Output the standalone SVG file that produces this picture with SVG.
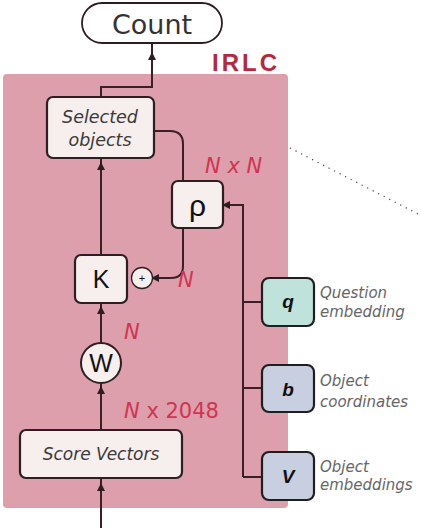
<svg xmlns="http://www.w3.org/2000/svg" width="421" height="530" viewBox="0 0 421 530">
<style>
.box{fill:#f7eeee;stroke:#2e1e22;stroke-width:2.2}
.ln{fill:none;stroke:#3a1f27;stroke-width:2}
.lab{font-family:"DejaVu Sans",Verdana,sans-serif;font-style:italic;fill:#3a3a3a}
.red{font-family:"DejaVu Sans",Verdana,sans-serif;font-style:italic;fill:#cf3552;font-size:21px}
.side{font-family:"DejaVu Sans",Verdana,sans-serif;font-style:italic;fill:#666;font-size:15px}
.sym{font-family:"Liberation Sans",Arial,sans-serif;fill:#111}
</style>
<defs>
<marker id="ah" viewBox="0 0 10 10" refX="5" refY="5" markerWidth="4" markerHeight="4" orient="auto" markerUnits="strokeWidth">
<path d="M0,0 L10,5 L0,10 z" fill="#2e1e22"/>
</marker>
</defs>
<rect x="3" y="74" width="285" height="434" rx="4" fill="#dc9fab"/>
<text x="212" y="71" font-family="Liberation Sans,Arial,sans-serif" font-weight="bold" font-size="24" letter-spacing="3" fill="#b5283f">IRLC</text>
<path d="M290,148 L420,215" stroke="#444" stroke-width="1.2" stroke-dasharray="1.2,5" fill="none"/>
<g id="connectors">
<path class="ln" d="M101,97 V87 H152 V44"/>
<path class="ln" d="M152,62 V56 V44" marker-mid="url(#ah)"/>
<path class="ln" d="M154,131 H170 Q183,131 183,144 V181"/>
<path class="ln" d="M183,228 V266 Q183,278 171,278 H155" marker-end="url(#ah)"/>
<path class="ln" d="M101,255 V166 V159" marker-mid="url(#ah)"/>
<path class="ln" d="M101,343 V310 V304" marker-mid="url(#ah)"/>
<path class="ln" d="M101,430 V390 V384" marker-mid="url(#ah)"/>
<path class="ln" d="M101,528 V487 V479" marker-mid="url(#ah)"/>
<path class="ln" d="M243,477 V205 H226" marker-end="url(#ah)"/>
<path class="ln" d="M243,302 H262 M243,388 H262 M243,477 H262"/>
</g>
<g id="count">
<rect x="82" y="3" width="140" height="40" rx="20" fill="#fff" stroke="#2e1e22" stroke-width="1.8"/>
<text x="152" y="34" text-anchor="middle" font-family="DejaVu Sans,Verdana,sans-serif" font-size="27" fill="#333">Count</text>
</g>
<g id="selected">
<rect class="box" x="47" y="97" width="107" height="61" rx="6"/>
<text x="100" y="123" text-anchor="middle" class="lab" font-size="17.5">Selected</text>
<text x="100" y="146" text-anchor="middle" class="lab" font-size="17.5">objects</text>
</g>
<g id="rho">
<rect class="box" x="172" y="181" width="51" height="47" rx="6"/>
<text x="197.5" y="216" text-anchor="middle" class="sym" font-size="30">ρ</text>
</g>
<g id="plus">
<circle cx="142" cy="278" r="10.5" fill="#f7eeee" stroke="#2e1e22" stroke-width="1.3"/>
<text x="142" y="282" text-anchor="middle" class="sym" font-size="11">+</text>
</g>
<g id="k">
<rect class="box" x="75" y="255" width="52" height="48" rx="6"/>
<text x="101" y="288" text-anchor="middle" class="sym" font-size="25">K</text>
</g>
<g id="w">
<circle cx="101" cy="363" r="20" fill="#f7eeee" stroke="#2e1e22" stroke-width="2"/>
<text x="101" y="372" text-anchor="middle" class="sym" font-size="25">W</text>
</g>
<g id="score">
<rect class="box" x="20" y="430" width="162" height="48" rx="6"/>
<text x="101" y="460" text-anchor="middle" class="lab" font-size="17">Score Vectors</text>
</g>
<g id="q">
<rect x="262" y="278" width="52" height="48" rx="7" fill="#bfe2db" stroke="#1f1f1f" stroke-width="2.2"/>
<text x="288" y="308" text-anchor="middle" class="sym" font-size="19" font-weight="bold" font-style="italic">q</text>
<text x="320" y="298" class="side">Question</text>
<text x="320" y="317" class="side">embedding</text>
</g>
<g id="b">
<rect x="262" y="365" width="52" height="47" rx="7" fill="#c7cfe1" stroke="#1f1f1f" stroke-width="2.2"/>
<text x="288" y="396" text-anchor="middle" class="sym" font-size="19" font-weight="bold" font-style="italic">b</text>
<text x="320" y="386" class="side">Object</text>
<text x="320" y="407" class="side">coordinates</text>
</g>
<g id="v">
<rect x="262" y="452" width="52" height="48" rx="7" fill="#c7cfe1" stroke="#1f1f1f" stroke-width="2.2"/>
<text x="288" y="483" text-anchor="middle" class="sym" font-size="19" font-weight="bold" font-style="italic">V</text>
<text x="320" y="472" class="side">Object</text>
<text x="320" y="490" class="side">embeddings</text>
</g>
<text x="205" y="173" class="red">N x N</text>
<text x="178" y="287" class="red">N</text>
<text x="124" y="339" class="red">N</text>
<text x="124" y="418" class="red" font-size="19">N <tspan font-style="normal">x 2048</tspan></text>
</svg>
